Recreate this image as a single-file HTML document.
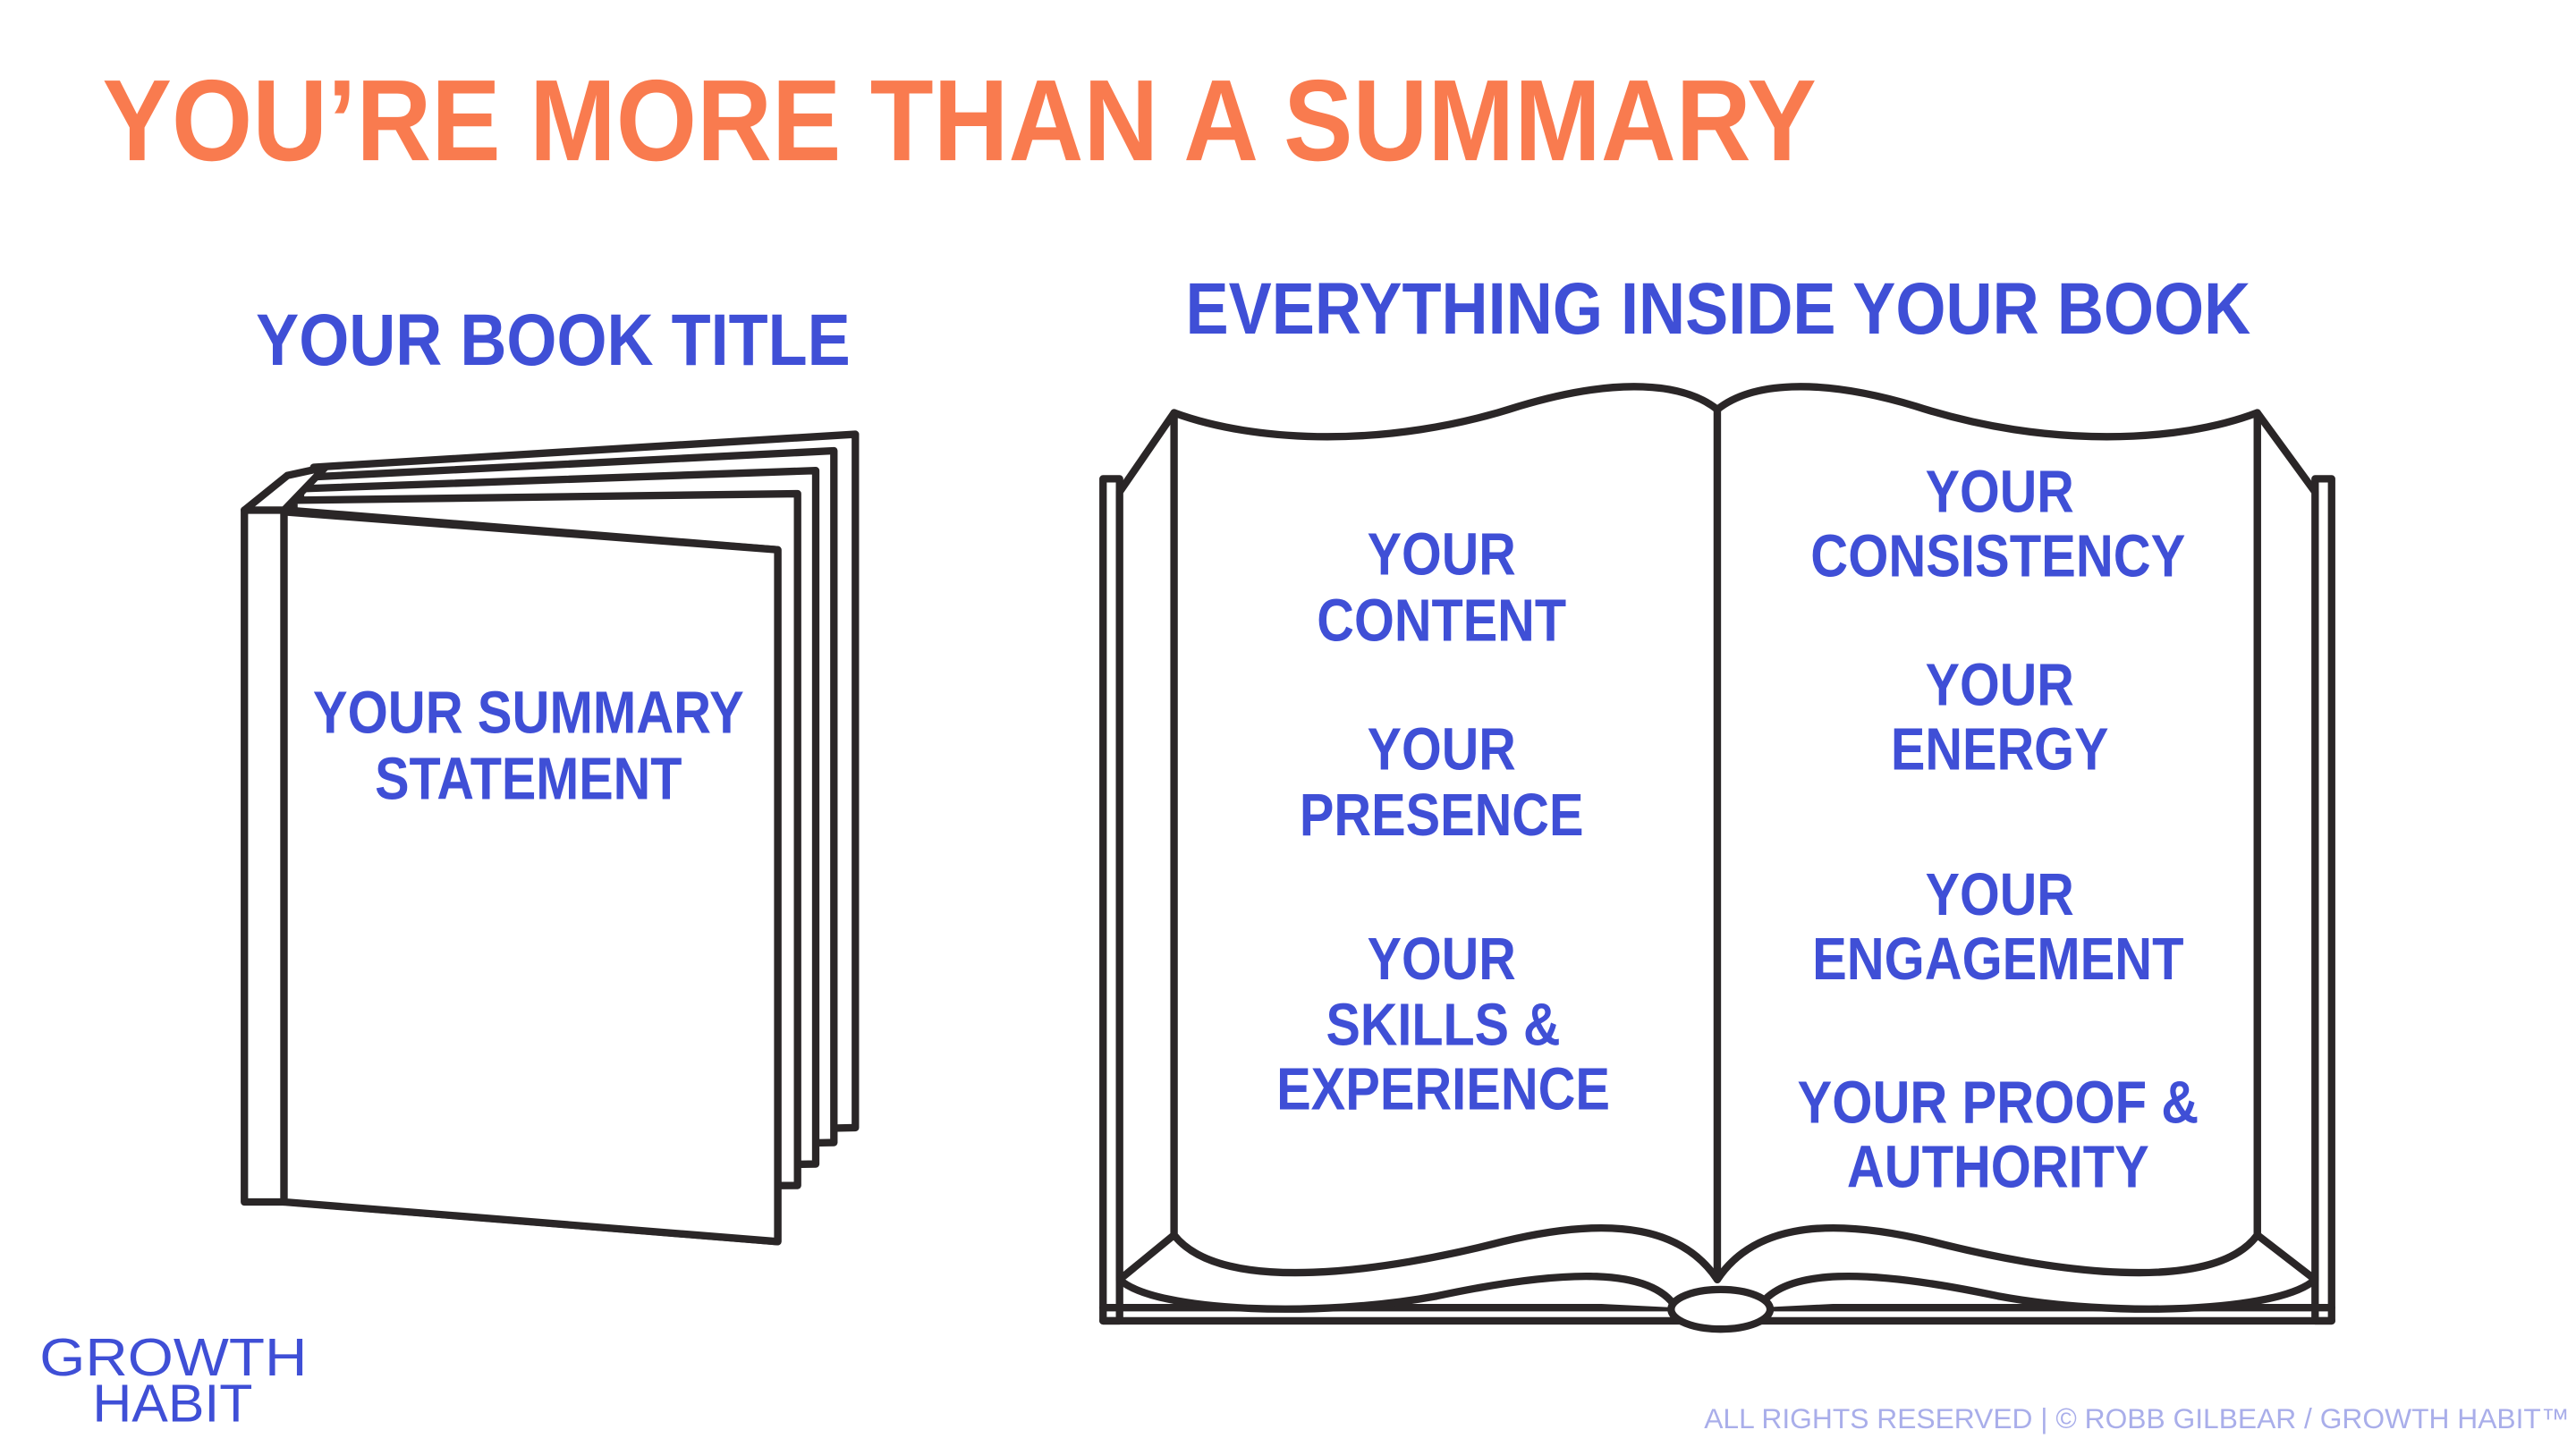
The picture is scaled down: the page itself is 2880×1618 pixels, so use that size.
<!DOCTYPE html>
<html><head><meta charset="utf-8"><style>
html,body{margin:0;padding:0;background:#fff;width:2880px;height:1618px;overflow:hidden}
svg{display:block}
text{font-family:"Liberation Sans",sans-serif;font-weight:bold}
</style></head><body>
<svg width="2880" height="1618" viewBox="0 0 1560 876.4" xmlns="http://www.w3.org/2000/svg">
<rect width="1560" height="876.4" fill="#fff"/>
<text x="62" y="97" font-size="70" fill="#F97B4F" textLength="1038" lengthAdjust="spacingAndGlyphs">YOU’RE MORE THAN A SUMMARY</text>
<g fill="#3F4FD6">
<text x="155" y="221" font-size="44" textLength="360" lengthAdjust="spacingAndGlyphs">YOUR BOOK TITLE</text>
<text x="718" y="202" font-size="44" textLength="645" lengthAdjust="spacingAndGlyphs">EVERYTHING INSIDE YOUR BOOK</text>
</g>
<!-- closed book -->
<g fill="#fff" stroke="#2a2627" stroke-width="4.5" stroke-linejoin="round">
<polygon points="190,283 518,263 518,683 190,690"/>
<polygon points="186,289 505,273 505,692 186,698"/>
<polygon points="182,296 494,285 494,705 182,710"/>
<polygon points="178,303 483,299 483,718 178,720"/>
<polygon points="174,309 471,333 471,752 174,728"/>
<polygon points="148,309 174,288 197,283 172,309"/>
<rect x="148" y="309" width="24" height="419"/>
<polygon points="172,310 471,333 471,752 172,728"/>
</g>
<g fill="#3F4FD6" text-anchor="middle">
<text x="320" y="444" font-size="36" textLength="261" lengthAdjust="spacingAndGlyphs">YOUR SUMMARY</text>
<text x="320" y="484" font-size="36" textLength="186" lengthAdjust="spacingAndGlyphs">STATEMENT</text>
</g>
<!-- open book -->
<g fill="none" stroke="#2a2627" stroke-width="4.5" stroke-linejoin="round" stroke-linecap="round">
<path d="M668,290 L678,290 L678,800 L668,800 Z" fill="#fff"/>
<path d="M1412,290 L1402,290 L1402,800 L1412,800 Z" fill="#fff"/>
<path d="M668,792 L1412,792 M668,800 L1412,800"/>
<path d="M678,298 L711,250 L711,748 L678,775 Z" fill="#fff"/>
<path d="M1402,298 L1367,250 L1367,748 L1402,775 Z" fill="#fff"/>
<path d="M678,775 C700,795 800,798 870,785 C950,768 1000,768 1015,792" fill="#fff"/>
<path d="M1402,775 C1380,795 1280,798 1210,785 C1130,768 1080,768 1065,792" fill="#fff"/>
<path d="M711,250 C760,268 840,272 920,246 C980,228 1020,232 1040,248 L1040,775 C1020,745 980,735 910,752 C840,770 740,785 711,748 Z" fill="#fff"/>
<path d="M1367,250 C1320,268 1240,272 1160,246 C1100,228 1060,232 1040,248 L1040,775 C1060,745 1100,735 1170,752 C1240,770 1340,785 1367,748 Z" fill="#fff"/>
<ellipse cx="1042" cy="793" rx="30" ry="12" fill="#fff"/>
</g>
<g fill="#3F4FD6" text-anchor="middle" font-size="36">
<text x="873" y="348" textLength="90" lengthAdjust="spacingAndGlyphs">YOUR</text>
<text x="873" y="388" textLength="151" lengthAdjust="spacingAndGlyphs">CONTENT</text>
<text x="873" y="466" textLength="90" lengthAdjust="spacingAndGlyphs">YOUR</text>
<text x="873" y="506" textLength="172" lengthAdjust="spacingAndGlyphs">PRESENCE</text>
<text x="873" y="593" textLength="90" lengthAdjust="spacingAndGlyphs">YOUR</text>
<text x="874" y="633" textLength="142" lengthAdjust="spacingAndGlyphs">SKILLS &amp;</text>
<text x="874" y="672" textLength="202" lengthAdjust="spacingAndGlyphs">EXPERIENCE</text>
<text x="1211" y="310" textLength="90" lengthAdjust="spacingAndGlyphs">YOUR</text>
<text x="1210" y="349" textLength="227" lengthAdjust="spacingAndGlyphs">CONSISTENCY</text>
<text x="1211" y="427" textLength="90" lengthAdjust="spacingAndGlyphs">YOUR</text>
<text x="1211" y="466" textLength="132" lengthAdjust="spacingAndGlyphs">ENERGY</text>
<text x="1211" y="554" textLength="90" lengthAdjust="spacingAndGlyphs">YOUR</text>
<text x="1210" y="593" textLength="225" lengthAdjust="spacingAndGlyphs">ENGAGEMENT</text>
<text x="1210" y="680" textLength="243" lengthAdjust="spacingAndGlyphs">YOUR PROOF &amp;</text>
<text x="1210" y="719" textLength="183" lengthAdjust="spacingAndGlyphs">AUTHORITY</text>
</g>
<g fill="#3F4FD6" style="font-weight:normal">
<text x="24" y="833" font-size="32" style="font-weight:normal" textLength="162" lengthAdjust="spacingAndGlyphs">GROWTH</text>
<text x="56" y="861" font-size="32" style="font-weight:normal" textLength="97" lengthAdjust="spacingAndGlyphs">HABIT</text>
</g>
<text x="1032" y="865" font-size="17" fill="#A9AEEA" style="font-weight:normal" textLength="524" lengthAdjust="spacingAndGlyphs">ALL RIGHTS RESERVED | © ROBB GILBEAR / GROWTH HABIT™</text>
</svg>
</body></html>
